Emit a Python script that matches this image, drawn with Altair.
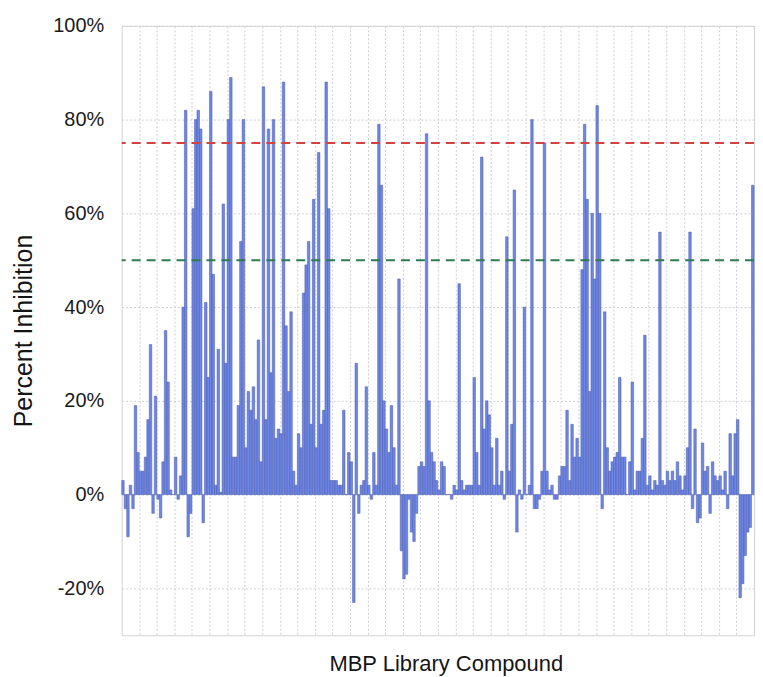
import altair as alt
import pandas as pd

# Percent inhibition per MBP library compound (left to right)
inhibition = [
    3, -3, -9, 2, -3, 19, 9, 5, 5, 8,
    16, 32, -4, 21, -1, -5, 7, 35, 24, 1,
    0, 8, -1, 4, 40, 82, -9, -4, 61, 80,
    82, 78, -6, 41, 25, 86, 47, 2, 31, 0.5,
    62, 28, 80, 89, 8, 8, 19, 54, 80, 10,
    22, 18, 23, 16, 33, 7, 87, 16, 78, 26,
    80, 12, 14, 13, 88, 36, 22, 39, 5, 2,
    13, 10, 43, 49, 54, 15, 63, 10, 73, 15,
    18, 88, 61, 3, 3, 3, 2, 2, 18, 0,
    9, 7, -23, 28, -4, 2, 3, 23, 2, -1,
    9, 2, 79, 66, 20, 14, 9, 19, 10, 2,
    46, -12, -18, -17, -1, -8, -10, -4, 6, 7,
    6, 77, 20, 9, 7, 3, 1, 7, 6, 0,
    0, -1, 2, 1, 45, 3, 1, 2, 2, 2,
    25, 9, 2, 72, 14, 20, 17, 10, 2, 12,
    2, 5, -1, 55, 5, 15, 65, -8, 1, -1,
    40, 0, 2, 80, -3, -3, -1, 5, 75, 5,
    1, 2, -1, -1, 4, 6, 6, 18, 3, 15,
    8, 12, 8, 48, 79, 63, 22, 60, 46, 83,
    60, -3, 39, 10, 5, 7, 8, 9, 25, 8,
    8, 0, 7, 24, 1, 5, 5, 12, 34, 2,
    4, 1, 3, 2, 56, 3, 2, 5, 3, 5,
    3, 7, 4, 1, 4, 10, 56, -3, 14, -6,
    -5, 11, 5, 6, -4, 7, 4, 3, 4, 1,
    5, -3, 13, 4, 13, 16, -22, -19, -13, -8,
    -7, 66,
]

threshold_values = [75, 50]
threshold_names = ["75%", "50%"]
threshold_colors = ["#d2433f", "#2e7b52"]
y_tick_values = [-20, 0, 20, 40, 60, 80, 100]
grid_every = 7

n = len(inhibition)
bars_df = pd.DataFrame({"idx": list(range(n)), "value": inhibition})
bars_df["idx2"] = bars_df["idx"] + 1

thr_df = pd.DataFrame({"value": threshold_values, "name": threshold_names})

FONT = "Liberation Sans"

x_scale = alt.Scale(domain=[0, n], nice=False, zero=False)
y_scale = alt.Scale(domain=[-30, 100], nice=False)

bars = alt.Chart(bars_df).mark_bar(
    color="#6f87e4", stroke="#4758ab", strokeWidth=0.5
).encode(
    x=alt.X(
        "idx:Q",
        scale=x_scale,
        axis=alt.Axis(
            values=list(range(grid_every, n + 1, grid_every)),
            labels=False,
            ticks=False,
            domain=False,
            grid=True,
            gridDash=[2, 2],
            gridColor="#cfcfcf",
            gridWidth=1,
            title="MBP Library Compound",
            titleFont=FONT,
            titleFontSize=22,
            titleFontWeight="normal",
            titleColor="#151515",
            titlePadding=18,
            titleX=325,
        ),
    ),
    x2="idx2:Q",
    y=alt.Y(
        "value:Q",
        scale=y_scale,
        axis=alt.Axis(
            values=y_tick_values,
            labelExpr="datum.value + '%'",
            labelFont=FONT,
            labelFontSize=20,
            labelColor="#1a1a1a",
            labelPadding=18,
            ticks=False,
            domain=False,
            grid=True,
            gridDash=[2, 2],
            gridColor="#cfcfcf",
            title="Percent Inhibition",
            titleFont=FONT,
            titleFontSize=25,
            titleFontWeight="normal",
            titleColor="#151515",
            titlePadding=16,
        ),
    ),
    y2=alt.datum(0),
)

rules = alt.Chart(thr_df).mark_rule(strokeDash=[9, 6], strokeWidth=2).encode(
    y=alt.Y("value:Q", scale=y_scale),
    color=alt.Color(
        "name:N",
        scale=alt.Scale(domain=threshold_names, range=threshold_colors),
        legend=None,
    ),
)

chart = (
    alt.layer(bars, rules)
    .properties(
        width=634,
        height=611,
        padding={"left": 3, "top": 7, "right": 0, "bottom": 5},
        background="white",
    )
    .configure_view(stroke="#d4d4d4", strokeWidth=1)
)

chart.save("out.html", embed_options={"renderer": "svg", "actions": False})
